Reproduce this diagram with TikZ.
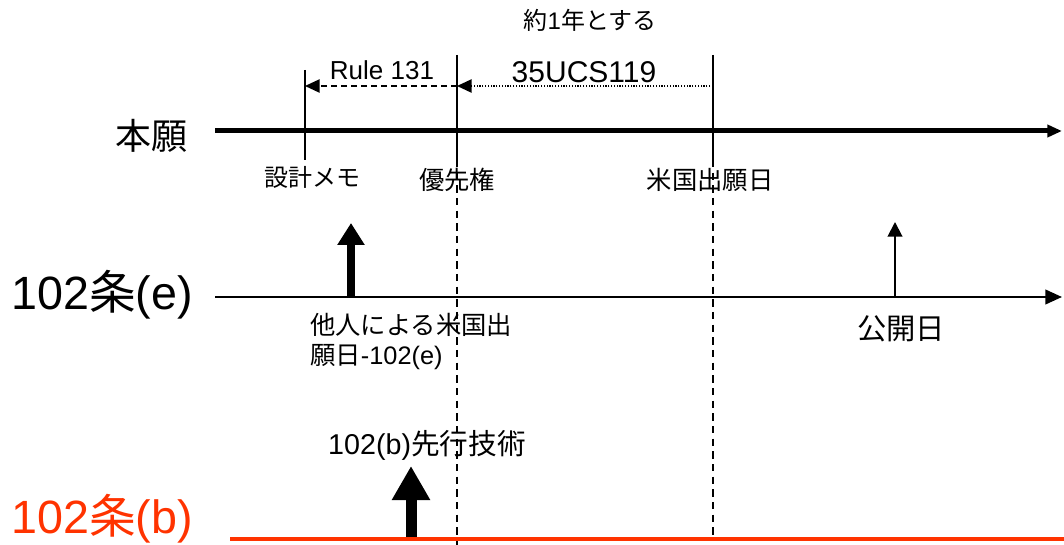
\documentclass[tikz,border=0pt]{standalone}
\usepackage{fontspec}
\setmainfont{Liberation Sans}
\newfontfamily\jp{Noto Sans CJK JP}
\usetikzlibrary{arrows.meta}
\definecolor{lawred}{RGB}{255,51,0}
\tikzset{
  lbl/.style={inner sep=0pt, font=\fontsize{19pt}{22.5pt}\selectfont},
  axisline/.style={line width=1.5pt, -{Triangle[length=12.5pt,width=11pt]}},
  mainline/.style={line width=3.75pt, -{Triangle[length=11pt,width=9pt]}},
  tick/.style={line width=1.1pt},
  guide/.style={line width=1.3pt, dash pattern=on 5.5pt off 4pt},
  bigarrow/.style={line width=6pt, -{Triangle[length=16.5pt,width=19.5pt]}},
  hugearrow/.style={line width=8.25pt, -{Triangle[length=25.5pt,width=27pt]}},
  thinarrow/.style={line width=1.5pt, -{Triangle[length=11pt,width=11pt]}},
}
\begin{document}
\begin{tikzpicture}[x=0.75pt,y=-0.75pt]
\useasboundingbox (0,0) rectangle (1064,545);
% coordinates
\coordinate (m0) at (215,131); \coordinate (m1) at (1062,131);
\coordinate (e0) at (215,297); \coordinate (e1) at (1062,297);
\coordinate (b0) at (230,539); \coordinate (b1) at (1064,539);
\coordinate (t1a) at (305,70);  \coordinate (t1b) at (305,160);
\coordinate (t2a) at (457,55);  \coordinate (t2b) at (457,160);
\coordinate (t3a) at (713,55);  \coordinate (t3b) at (713,160);
\coordinate (g2) at (457,545);  \coordinate (g3) at (713,540);
\coordinate (r1) at (305,86); \coordinate (r2) at (457,86); \coordinate (r3) at (713,86);
\coordinate (ea0) at (351,297); \coordinate (ea1) at (351,223);
\coordinate (pa0) at (895,297); \coordinate (pa1) at (895,222);
\coordinate (ba0) at (411,537); \coordinate (ba1) at (411,466);
% labels
\node[lbl, font=\fontsize{27pt}{30pt}\jp] (hongan) at (151,136) {本願};
\node[lbl, font=\fontsize{35pt}{38pt}\selectfont] (l102e) at (102,295) {102{\jp 条}(e)};
\node[lbl, font=\fontsize{35pt}{38pt}\selectfont, text=lawred] (l102b) at (102,519) {102{\jp 条}(b)};
\node[lbl, font=\fontsize{18pt}{20pt}\selectfont] (oneyear) at (590,20) {{\jp 約}1{\jp 年とする}};
\node[lbl, font=\fontsize{19.5pt}{22pt}\selectfont] (rule) at (382,70) {Rule 131};
\node[lbl, font=\fontsize{22.5pt}{25pt}\selectfont] (ucs) at (584,72) {35UCS119};
\node[lbl, font=\fontsize{18pt}{20pt}\jp] (memo) at (312,177) {設計メモ};
\node[lbl, font=\fontsize{19pt}{20pt}\jp] (prio) at (457,180) {優先権};
\node[lbl, font=\fontsize{19pt}{20pt}\jp] (usdate) at (710,180) {米国出願日};
\node[lbl, align=left, anchor=north west] (other) at (310,313) {{\jp 他人による米国出}\\{\jp 願日}-102(e)};
\node[lbl, font=\fontsize{22pt}{24pt}\jp] (pub) at (901,329) {公開日};
\node[lbl, font=\fontsize{21.5pt}{24pt}\selectfont] (prior) at (427,445) {102(b){\jp 先行技術}};
% guides
\draw[guide] (t2b) -- (g2);
\draw[guide] (t3b) -- (g3);
% lines
\draw[mainline] (m0) -- (m1);
\draw[axisline] (e0) -- (e1);
\draw[lawred, line width=2.8pt] (b0) -- (b1);
\draw[tick] (t1a) -- (t1b);
\draw[tick] (t2a) -- (t2b);
\draw[tick] (t3a) -- (t3b);
\draw[line width=1.1pt, dash pattern=on 4.5pt off 3pt, -{Triangle[length=11pt,width=10pt]}] (r2) -- (r1);
\draw[line width=1.1pt, dash pattern=on 0.9pt off 1.2pt, -{Triangle[length=11pt,width=10pt]}] (r3) -- (r2);
\draw[bigarrow] (ea0) -- (ea1);
\draw[thinarrow] (pa0) -- (pa1);
\draw[hugearrow] (ba0) -- (ba1);
\end{tikzpicture}
\end{document}
